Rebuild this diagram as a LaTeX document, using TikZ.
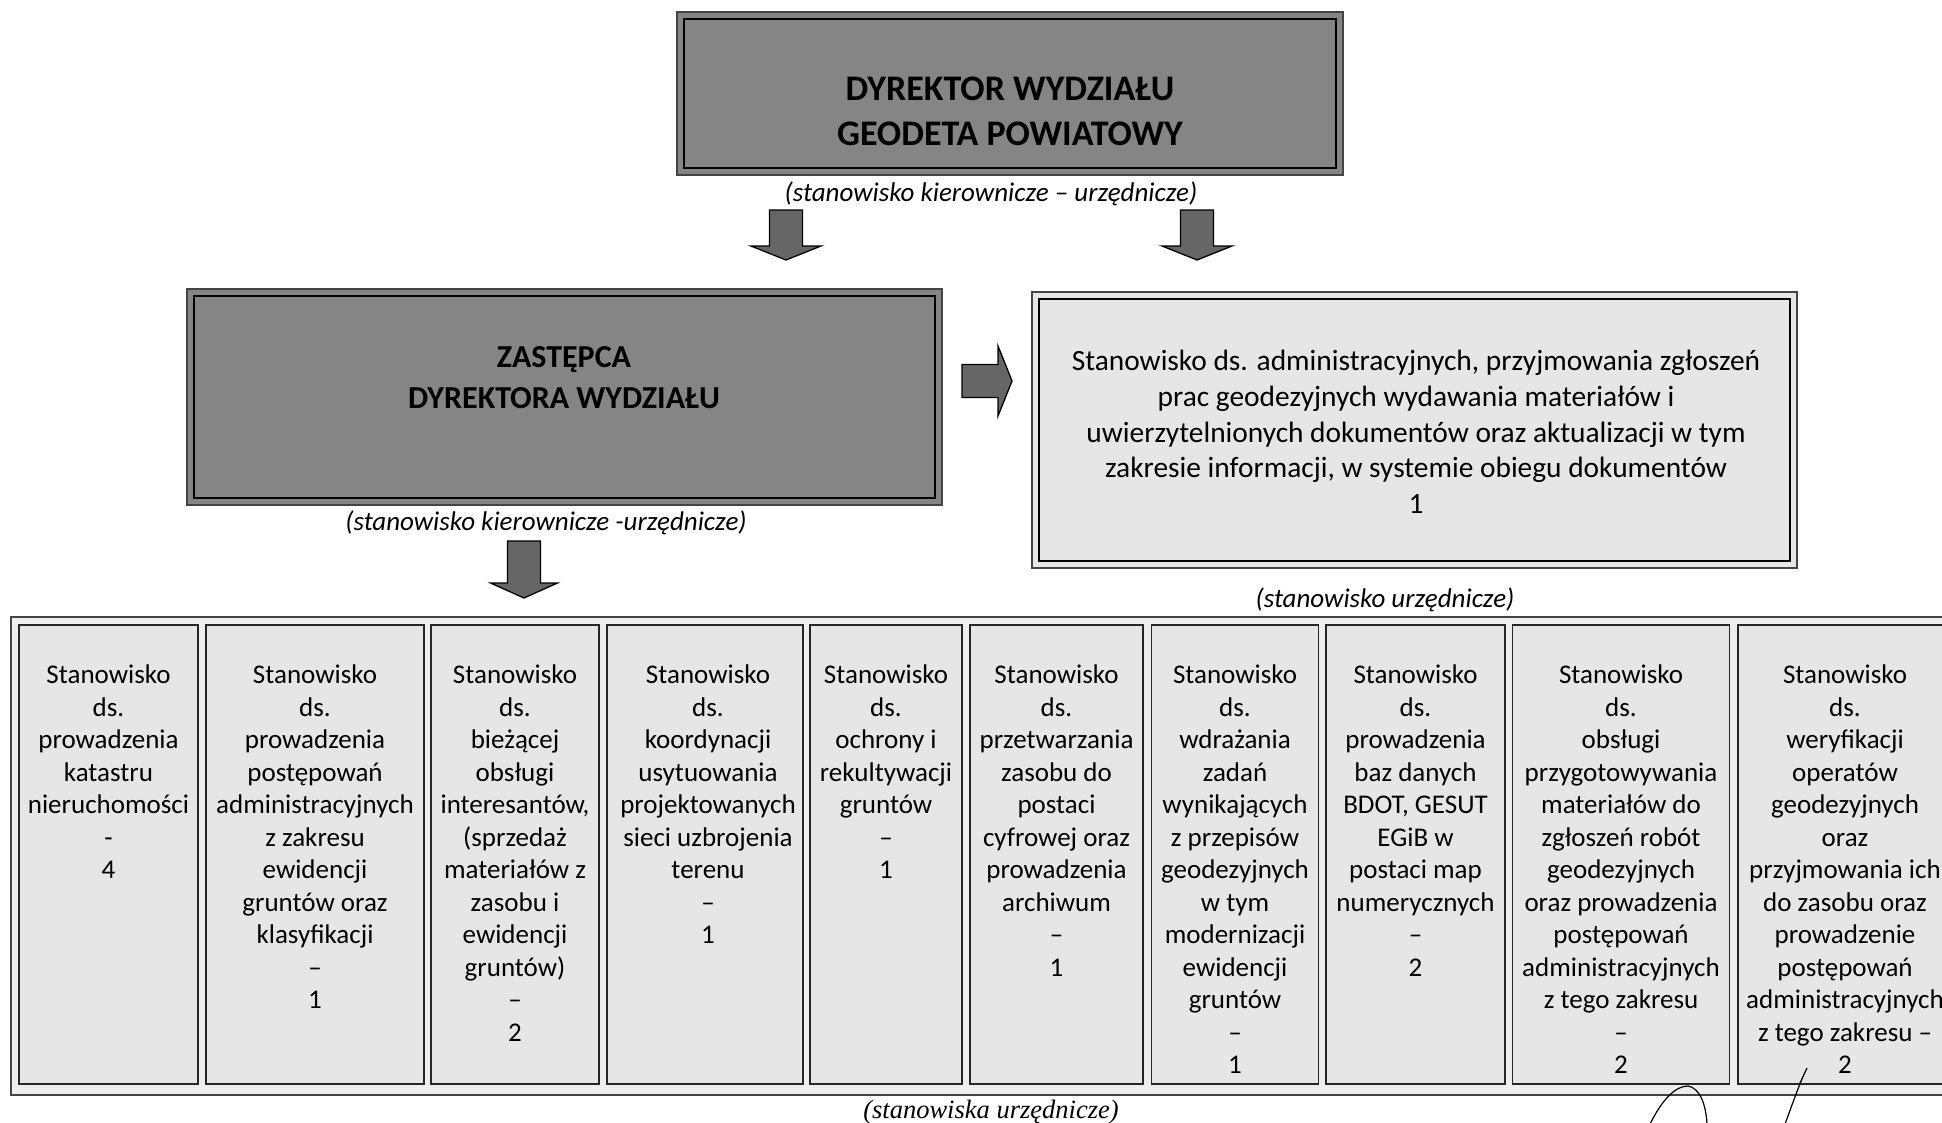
\documentclass[tikz,border=0pt]{standalone}
\usepackage{fontspec}
\setmainfont{Carlito}
\newfontfamily\timesfont{Liberation Serif}
\usetikzlibrary{calc}
\definecolor{boxdark}{HTML}{858585}
\definecolor{arrowgray}{HTML}{666666}
\definecolor{boxlight}{HTML}{E6E6E6}
\definecolor{framefill}{HTML}{EEEEEE}
\definecolor{rimgray}{HTML}{444444}
\begin{document}
\begin{tikzpicture}[x=1pt,y=-1pt,
  darkbox/.style={draw=rimgray, line width=2pt, fill=boxdark, inner sep=0pt},
  lightbox/.style={draw=rimgray, line width=2pt, fill=boxlight, inner sep=0pt},
  innerline/.style={draw=black, line width=1.3pt},
  colbox/.style={draw=black!85, line width=1.5pt, fill=boxlight, inner sep=0pt, minimum height=459pt},
  coltext/.style={align=center, anchor=north, inner sep=0pt, font=\fontsize{27}{32.5}\selectfont},
  headtext/.style={align=center, inner sep=0pt, font=\bfseries\fontsize{36}{45}\selectfont},
  subtext/.style={inner sep=0pt, font=\itshape\fontsize{27}{32}\selectfont},
  arrowstyle/.style={draw=black, line width=1.3pt, fill=arrowgray},
]
\useasboundingbox (0,0) rectangle (1942,1122);
\clip (0,0) rectangle (1942,1122);
\fill[white] (0,0) rectangle (1942,1122);

% top box
\node[darkbox, minimum width=666pt, minimum height=163pt] (dyr) at (1010,93.5) {};
\draw[innerline] ([shift={(8,8)}]dyr.north west) rectangle ([shift={(-8,-8)}]dyr.south east);
\node[headtext] (dyrtext) at (1010,111.5) {DYREKTOR WYDZIAŁU\\GEODETA POWIATOWY};
\node[subtext] (sub1) at (991,194) {(stanowisko kierownicze – urzędnicze)};

% deputy box
\node[darkbox, minimum width=755pt, minimum height=216pt] (zast) at (564.5,397) {};
\draw[innerline] ([shift={(8,8)}]zast.north west) rectangle ([shift={(-8,-8)}]zast.south east);
\node[headtext, font=\bfseries\fontsize{32}{41}\selectfont] (zasttext) at (564,377.5) {ZASTĘPCA\\DYREKTORA WYDZIAŁU};
\node[subtext] (sub2) at (546,523) {(stanowisko kierownicze -urzędnicze)};

% administrative box
\node[lightbox, minimum width=765pt, minimum height=276pt] (adm) at (1414.5,430) {};
\draw[innerline] ([shift={(8,8)}]adm.north west) rectangle ([shift={(-8,-8)}]adm.south east);
\node[align=center, inner sep=0pt, font=\fontsize{29.4}{35.7}\selectfont] (admtext) at (1416,432) {Stanowisko ds. administracyjnych, przyjmowania zgłoszeń\\prac geodezyjnych wydawania materiałów i\\uwierzytelnionych dokumentów oraz aktualizacji w tym\\zakresie informacji, w systemie obiegu dokumentów\\1};
\node[subtext] (sub3) at (1385,600) {(stanowisko urzędnicze)};

% block arrows
\coordinate (a1) at (786,210);
\coordinate (a2) at (1197,210);
\coordinate (a3) at (524,541);
\coordinate (a4) at (962,381);
\draw[arrowstyle, shift={(a1)}] (-16.5,0) -- (16.5,0) -- (16.5,36) -- (35,36) -- (0,50) -- (-35,36) -- (-16.5,36) -- cycle;
\draw[arrowstyle, shift={(a2)}] (-16.5,0) -- (16.5,0) -- (16.5,36) -- (35,36) -- (0,50) -- (-35,36) -- (-16.5,36) -- cycle;
\draw[arrowstyle, shift={(a3)}] (-16.5,0) -- (16.5,0) -- (16.5,42) -- (33.5,42) -- (0,57) -- (-33.5,42) -- (-16.5,42) -- cycle;
\draw[arrowstyle, shift={(a4)}] (0,-16.5) -- (36,-16.5) -- (36,-35) -- (50,0) -- (36,35) -- (36,16.5) -- (0,16.5) -- cycle;

% bottom frame
\node[draw=rimgray, line width=2pt, fill=framefill, inner sep=0pt, minimum width=1950pt, minimum height=478pt, anchor=north west] (frame) at (10,616) {};

% columns
\node[colbox, minimum width=179pt] (c1) at (108.5,854.5) {};
\node[colbox, minimum width=218pt] (c2) at (315,854.5) {};
\node[colbox, minimum width=168pt] (c3) at (515,854.5) {};
\node[colbox, minimum width=196pt] (c4) at (705,854.5) {};
\node[colbox, minimum width=152pt] (c5) at (886,854.5) {};
\node[colbox, minimum width=173pt] (c6) at (1056.5,854.5) {};
\node[colbox, minimum width=167pt] (c7) at (1235,854.5) {};
\node[colbox, minimum width=179pt] (c8) at (1415.5,854.5) {};
\node[colbox, minimum width=217pt] (c9) at (1621,854.5) {};
\node[colbox, minimum width=214pt] (c10) at (1845,854.5) {};

\node[coltext] (t1) at (108.5,665) {Stanowisko\\ds.\\prowadzenia\\katastru\\nieruchomości\\-\\4};
\node[coltext] (t2) at (315,665) {Stanowisko\\ds.\\prowadzenia\\postępowań\\administracyjnych\\z zakresu\\ewidencji\\gruntów oraz\\klasyfikacji\\–\\1};
\node[coltext] (t3) at (515,665) {Stanowisko\\ds.\\bieżącej\\obsługi\\interesantów,\\(sprzedaż\\materiałów z\\zasobu i\\ewidencji\\gruntów)\\–\\2};
\node[coltext] (t4) at (708,665) {Stanowisko\\ds.\\koordynacji\\usytuowania\\projektowanych\\sieci uzbrojenia\\terenu\\–\\1};
\node[coltext] (t5) at (886,665) {Stanowisko\\ds.\\ochrony i\\rekultywacji\\gruntów\\–\\1};
\node[coltext] (t6) at (1056.5,665) {Stanowisko\\ds.\\przetwarzania\\zasobu do\\postaci\\cyfrowej oraz\\prowadzenia\\archiwum\\–\\1};
\node[coltext] (t7) at (1235,665) {Stanowisko\\ds.\\wdrażania\\zadań\\wynikających\\z przepisów\\geodezyjnych\\w tym\\modernizacji\\ewidencji\\gruntów\\–\\1};
\node[coltext] (t8) at (1415.5,665) {Stanowisko\\ds.\\prowadzenia\\baz danych\\BDOT, GESUT\\EGiB w\\postaci map\\numerycznych\\–\\2};
\node[coltext] (t9) at (1621,665) {Stanowisko\\ds.\\obsługi\\przygotowywania\\materiałów do\\zgłoszeń robót\\geodezyjnych\\oraz prowadzenia\\postępowań\\administracyjnych\\z tego zakresu\\–\\2};
\node[coltext] (t10) at (1845,665) {Stanowisko\\ds.\\weryfikacji\\operatów\\geodezyjnych\\oraz\\przyjmowania ich\\do zasobu oraz\\prowadzenie\\postępowań\\administracyjnych\\z tego zakresu –\\2};

\node[inner sep=0pt, font=\timesfont\itshape\fontsize{26.5}{30}\selectfont] (sub4) at (991,1112) {(stanowiska urzędnicze)};

% handwritten marks
\draw[line width=1.2pt] (1650,1124) .. controls (1663,1098) and (1676,1086) .. (1688,1086) .. controls (1700,1088) and (1706,1105) .. (1707,1124);
\draw[line width=1.2pt] (1785,1124) .. controls (1792,1105) and (1800,1082) .. (1807,1068) -- (1800,1083);
\end{tikzpicture}
\end{document}
